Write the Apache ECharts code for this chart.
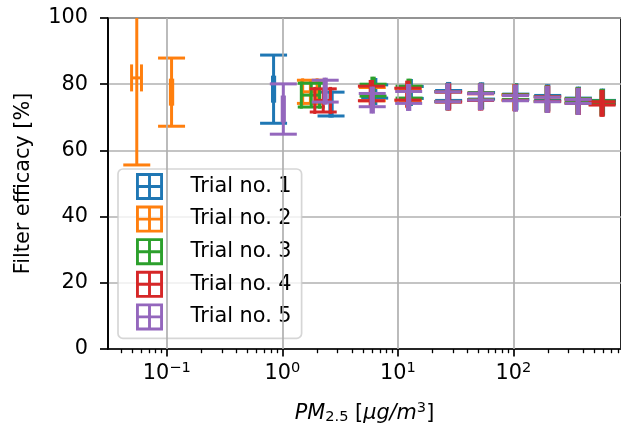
<!DOCTYPE html>
<html>
<head>
<meta charset="utf-8">
<script src="https://cdn.jsdelivr.net/npm/echarts@6/dist/echarts.min.js"></script>
<style>
  html, body { margin: 0; padding: 0; background: #fff; }
  #chart { width: 621px; height: 433px; }
</style>
</head>
<body>
<div id="chart"></div>
<script>
// PM2.5 concentration (x), filter efficacy (y) and their errors, per trial
const trialNames = ['Trial no. 1', 'Trial no. 2', 'Trial no. 3', 'Trial no. 4', 'Trial no. 5']

const trial1Pm = [0.84, 2.64, 6.3, 12.8, 27.5, 53, 105, 198, 365, 590]
const trial1PmErr = [0.018, 0.06, 0.15, 0.3, 0.6, 1.2, 2.3, 4.4, 8, 13]
const trial1Eff = [78.5, 74, 77.8, 77.5, 76.6, 76.5, 76.2, 75.9, 75.2, 74.6]
const trial1EffErr = [10.3, 3.6, 2, 1.8, 1.5, 1, 0.8, 0.7, 0.6, 0.5]

const trial2Pm = [0.055, 0.11, 1.75, 6.0, 12.3, 27, 52, 103, 196, 362]
const trial2PmErr = [0.0054, 0.0025, 0.25, 0.14, 0.28, 0.6, 1.2, 2.3, 4.4, 8]
const trial2Eff = [81.9, 77.6, 77.7, 77, 76.8, 76.3, 76.3, 76, 75.5, 74.9]
const trial2EffErr = [26.3, 10.3, 3.5, 2, 1.8, 1.5, 1, 0.8, 0.7, 0.6]

const trial3Pm = [1.78, 6.1, 12.5, 27, 52, 104, 196, 363, 585]
const trial3PmErr = [0.32, 0.14, 0.28, 0.6, 1.2, 2.3, 4.4, 8, 13]
const trial3Eff = [76.7, 78.2, 77.6, 76.2, 76.3, 76.1, 75.6, 75, 74.5]
const trial3EffErr = [3.6, 1.8, 1.8, 1.5, 1, 0.8, 0.7, 0.6, 0.5]

const trial4Pm = [2.26, 5.9, 12.2, 27.5, 52, 104, 198, 365, 585]
const trial4PmErr = [0.35, 0.14, 0.28, 0.6, 1.2, 2.3, 4.4, 8, 13]
const trial4Eff = [75.1, 77.2, 77, 76.1, 76.1, 75.9, 75.5, 74.8, 74.2]
const trial4EffErr = [3.5, 2.2, 1.8, 1.5, 1, 0.8, 0.7, 0.6, 0.5]

const trial5Pm = [1.02, 2.35, 6.0, 12.4, 27, 52, 104, 196, 363]
const trial5PmErr = [0.022, 0.05, 0.14, 0.28, 0.6, 1.2, 2.3, 4.4, 8]
const trial5Eff = [72.5, 77.9, 75.2, 76, 76.2, 76.2, 75.8, 75.4, 74.8]
const trial5EffErr = [7.6, 3.3, 2, 1.8, 1.5, 1, 0.8, 0.7, 0.6]

const xMajorTicks = [0.1, 1, 10, 100]
const xMinorTicks = [0.04, 0.05, 0.06, 0.07, 0.08, 0.09,
    0.2, 0.3, 0.4, 0.5, 0.6, 0.7, 0.8, 0.9,
    2, 3, 4, 5, 6, 7, 8, 9,
    20, 30, 40, 50, 60, 70, 80, 90,
    200, 300, 400, 500, 600, 700, 800]

const colors = ['#1f77b4', '#ff7f0e', '#2ca02c', '#d62728', '#9467bd']
const font = 'DejaVu Sans'
const fs = 20.8

const trials = [
    [trial1Pm, trial1PmErr, trial1Eff, trial1EffErr],
    [trial2Pm, trial2PmErr, trial2Eff, trial2EffErr],
    [trial3Pm, trial3PmErr, trial3Eff, trial3EffErr],
    [trial4Pm, trial4PmErr, trial4Eff, trial4EffErr],
    [trial5Pm, trial5PmErr, trial5Eff, trial5EffErr],
]

// square with a cross, like matplotlib's errorbar legend handle
const legendIcon = 'path://M0,0H28V3H0Z M0,25H28V28H0Z M0,0H3V28H0Z M25,0H28V28H25Z M12.5,0H15.5V28H12.5Z M0,12.5H28V15.5H0Z'

function errorBars(color) {
    return function (params, api) {
        const x = api.value(0)
        const y = api.value(2)
        const xe = api.value(1)
        const ye = api.value(3)
        const c = api.coord([x, y])
        const xl = api.coord([x - xe, y])[0]
        const xr = api.coord([x + xe, y])[0]
        const yt = api.coord([x, y + ye])[1]
        const yb = api.coord([x, y - ye])[1]
        const cap = 13.5
        const style = { stroke: color, lineWidth: 3, fill: null }
        const seg = (x1, y1, x2, y2) => ({ type: 'line', shape: { x1, y1, x2, y2 }, style })
        return {
            type: 'group',
            children: [
                seg(c[0], yt, c[0], yb),
                seg(xl, c[1], xr, c[1]),
                seg(c[0] - cap, yt, c[0] + cap, yt),
                seg(c[0] - cap, yb, c[0] + cap, yb),
                seg(xl, c[1] - cap, xl, c[1] + cap),
                seg(xr, c[1] - cap, xr, c[1] + cap),
            ],
        }
    }
}

const series = trials.map((t, i) => ({
    name: trialNames[i],
    type: 'custom',
    clip: true,
    z: 2 + i,
    renderItem: errorBars(colors[i]),
    data: t[0].map((v, k) => [v, t[1][k], t[2][k], t[3][k]]),
    encode: { x: 0, y: 2 },
}))

// vertical grid lines at the decades
series.push({
    type: 'line',
    data: [],
    silent: true,
    z: 1,
    markLine: {
        silent: true,
        symbol: 'none',
        label: { show: false },
        lineStyle: { color: '#b0b0b0', width: 1.7, type: 'solid' },
        data: xMajorTicks.map(v => ({ xAxis: v })),
    },
})

const option = {
    animation: false,
    color: colors,
    textStyle: { fontFamily: font },
    grid: {
        left: 108,
        right: -3,
        top: 18,
        bottom: 84,
        show: true,
        borderColor: '#000',
        borderWidth: 1.7,
    },
    legend: {
        orient: 'vertical',
        left: 118,
        top: 169,
        padding: [4, 10, 8, 18],
        itemWidth: 28,
        itemHeight: 27,
        itemGap: 5.6,
        icon: legendIcon,
        backgroundColor: 'rgba(255,255,255,0.8)',
        borderColor: 'rgba(204,204,204,0.8)',
        borderWidth: 1.7,
        borderRadius: 5,
        textStyle: { fontSize: fs, fontFamily: font, color: '#000', padding: [0, 0, 0, 22] },
        data: trialNames,
    },
    xAxis: [
        {
            type: 'log',
            logBase: 10,
            min: 0.031,
            max: 853,
            name: '{it|PM}{sub|2.5} [{it|μg/m}{sup|3}]',
            nameLocation: 'middle',
            nameGap: 52,
            nameTextStyle: {
                fontSize: fs, color: '#000', fontFamily: font,
                rich: {
                    it: { fontSize: fs, fontStyle: 'italic', fontFamily: font, color: '#000' },
                    sub: { fontSize: 14.6, fontFamily: font, color: '#000', padding: [8, 0, 0, 0] },
                    sup: { fontSize: 14.6, fontFamily: font, color: '#000', padding: [0, 0, 10, 0] },
                },
            },
            axisLine: { show: true, lineStyle: { color: '#000', width: 1.7 } },
            axisTick: { show: true, length: 7.5, lineStyle: { color: '#000', width: 1.7 }, customValues: xMajorTicks },
            axisLabel: {
                customValues: xMajorTicks,
                margin: 12,
                color: '#000',
                fontSize: fs,
                fontFamily: font,
                formatter: v => {
                    const e = Math.round(Math.log10(v))
                    return '10{sup|' + (e < 0 ? '\u2212' + (-e) : e) + '}'
                },
                rich: {
                    sup: { fontSize: 14.6, fontFamily: font, color: '#000', padding: [0, 0, 10, 0] },
                },
            },
            splitLine: { show: false },
            minorTick: { show: false },
        },
        {
            type: 'log',
            logBase: 10,
            min: 0.031,
            max: 853,
            position: 'bottom',
            axisLine: { show: false },
            axisTick: { show: true, length: 4.2, lineStyle: { color: '#000', width: 1.3 }, customValues: xMinorTicks },
            axisLabel: { show: false },
            splitLine: { show: false },
        },
    ],
    yAxis: {
        type: 'value',
        min: 0,
        max: 100,
        interval: 20,
        name: 'Filter efficacy [%]',
        nameLocation: 'middle',
        nameGap: 74,
        nameTextStyle: { fontSize: fs, color: '#000', fontFamily: font },
        axisLine: { show: true, lineStyle: { color: '#000', width: 1.7 } },
        axisTick: { show: true, length: 8, lineStyle: { color: '#000', width: 1.7 } },
        axisLabel: { margin: 20, color: '#000', fontSize: fs, fontFamily: font },
        splitLine: { show: true, lineStyle: { color: '#b0b0b0', width: 1.7 } },
    },
    series: series,
}

const chart = echarts.init(document.getElementById('chart'))
chart.setOption(option)
</script>
</body>
</html>
